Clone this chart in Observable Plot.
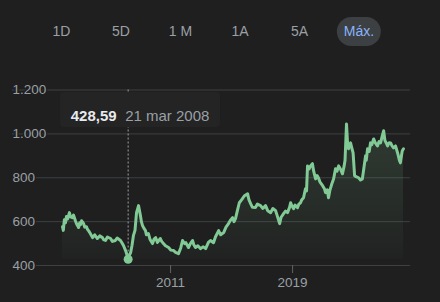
<!DOCTYPE html>
<html><head><meta charset="utf-8">
<script src="https://cdn.jsdelivr.net/npm/d3@7"></script>
<script src="https://cdn.jsdelivr.net/npm/@observablehq/plot@0.6"></script>
<style>
html,body{margin:0;padding:0;background:#1f1f1f;}
#wrap{width:440px;height:302px;position:relative;overflow:hidden;font-family:Arial,"Liberation Sans",sans-serif;}
#tabs{position:relative;height:60px;}
.tab{position:absolute;top:17px;height:29px;line-height:29px;font-size:14px;color:#9aa0a6;transform:translateX(-50%);white-space:nowrap;}
.tab.on{background:#3c4043;color:#8ab4f8;border-radius:15px;padding:0 7px;}
#chart svg{display:block;}
</style></head><body>
<div id="wrap"><div id="tabs"></div><div id="chart"></div></div>
<script>
const ranges = ["1D", "5D", "1 M", "1A", "5A", "Máx."];
const activeRange = "Máx.";

const dates = [
"2003-12-01","2003-12-20","2004-01-15","2004-02-10","2004-03-05","2004-04-01","2004-05-15","2004-06-10","2004-07-25","2004-08-20",
"2004-10-05","2004-11-01","2004-12-20","2005-01-15","2005-02-05","2005-03-01","2005-04-20","2005-05-15","2005-06-25","2005-07-20",
"2005-08-15","2005-09-20","2005-11-20","2006-01-10","2006-03-15","2006-05-10","2006-07-15","2006-08-10","2006-09-25","2006-11-10",
"2007-01-25","2007-03-10","2007-05-20","2007-07-01","2007-09-20","2007-10-20","2007-11-30","2008-01-20","2008-02-20","2008-03-21",
"2008-04-15","2008-05-20","2008-06-20","2008-07-25","2008-09-01","2008-10-08","2008-11-25","2009-01-10","2009-02-01","2009-03-01",
"2009-04-01","2009-05-10","2009-06-01","2009-07-20","2009-08-25","2009-10-25","2009-12-01","2010-01-10","2010-02-20","2010-05-01",
"2010-06-01","2010-07-15","2010-09-01","2010-11-15","2011-01-10","2011-03-15","2011-05-01","2011-07-10","2011-09-01","2011-10-15",
"2011-12-01","2012-01-01","2012-03-05","2012-04-20","2012-06-10","2012-07-10","2012-08-20","2012-10-15","2012-12-20","2013-02-15",
"2013-04-20","2013-06-25","2013-08-15","2013-10-25","2013-12-10","2014-02-25","2014-04-15","2014-06-25","2014-08-20","2014-10-20",
"2014-12-01","2015-01-25","2015-03-01","2015-04-05","2015-05-20","2015-07-05","2015-09-01","2015-11-05","2016-01-20","2016-02-20",
"2016-04-01","2016-05-15","2016-07-25","2016-09-10","2016-11-25","2017-01-20","2017-03-25","2017-05-15","2017-07-25","2017-09-15",
"2017-11-20","2018-01-01","2018-02-25","2018-04-01","2018-05-30","2018-07-15","2018-09-01","2018-10-20","2018-11-15","2018-12-15",
"2019-01-25","2019-03-01","2019-04-30","2019-06-01","2019-07-10","2019-08-10","2019-09-20","2019-11-05","2019-12-01","2019-12-25",
"2020-02-01","2020-03-05","2020-04-20","2020-05-20","2020-07-05","2020-08-10","2020-09-10","2020-10-20","2020-12-20","2021-02-01",
"2021-03-01","2021-04-10","2021-05-10","2021-06-10","2021-07-25","2021-09-10","2021-10-25","2021-12-01","2022-01-08","2022-02-20",
"2022-04-10","2022-05-20","2022-06-10","2022-07-15","2022-08-15","2022-09-01","2022-10-20","2022-11-20","2022-12-20","2023-01-25",
"2023-03-01","2023-04-30","2023-06-15","2023-07-30","2023-09-01","2023-10-15","2023-11-01","2023-12-01","2024-01-10","2024-02-10",
"2024-03-10","2024-04-25","2024-06-01","2024-07-25","2024-09-01","2024-10-08","2024-11-10","2024-12-20","2025-01-20","2025-03-25",
"2025-05-01","2025-06-05","2025-07-10","2025-08-15","2025-10-01","2025-11-20","2026-01-01","2026-01-25","2026-03-10","2026-04-10"
];
const values = [
577,560,609,595,623,612,641,622,618,630,
604,590,573,595,586,604,591,575,577,565,
559,548,527,540,523,535,527,518,514,530,
523,510,514,525,514,505,491,468,450,428.59,
445,459,490,536,560,641,673,627,600,582,
570,559,540,545,520,500,520,527,505,523,
510,500,490,482,470,468,460,454,480,514,
500,504,482,500,514,495,482,490,477,485,
477,505,514,504,530,559,540,550,575,591,
605,618,600,614,650,686,700,718,727,700,
682,665,664,680,673,660,673,650,641,660,
650,625,591,620,636,648,641,665,686,672,
659,675,664,680,686,700,709,750,740,854,
840,854,864,830,795,810,800,780,764,750,
732,745,709,741,770,795,841,830,854,840,
818,854,880,1045,940,932,959,935,913,809,
805,800,790,795,840,900,880,932,920,959,
950,977,960,945,965,959,985,1014,970,945,
960,959,945,936,945,913,880,868,922,932
];

const yTicks = [400, 600, 800, 1000, 1200];
const yTickLabels = ["400", "600", "800", "1.000", "1.200"];
const xTickYears = [2011, 2019];
const xDomain = ["2003-12-01", "2026-04-10"];

const hoverDate = "2008-03-21";
const hoverValue = 428.59;
const hoverValueLabel = "428,59";
const hoverDateLabel = "21 mar 2008";

// tabs
const tabs = document.getElementById("tabs");
ranges.forEach((r, i) => {
  const s = document.createElement("span");
  s.className = "tab" + (r === activeRange ? " on" : "");
  s.textContent = r;
  s.style.left = (61.5 + i * 59.5) + "px";
  tabs.appendChild(s);
});

const data = dates.map((d, i) => ({date: new Date(d), value: values[i]}));
const hover = {date: new Date(hoverDate), value: hoverValue};

const gradientDefs = () => {
  const defs = d3.create("svg:defs");
  const g = defs.append("linearGradient").attr("id", "areaGrad")
    .attr("x1", 0).attr("x2", 0).attr("y1", 0).attr("y2", 1);
  g.append("stop").attr("offset", "0%").attr("stop-color", "#81c995").attr("stop-opacity", 0.17);
  g.append("stop").attr("offset", "100%").attr("stop-color", "#81c995").attr("stop-opacity", 0.02);
  return defs.node();
};

const tooltipBox = (index, scales) => {
  const cx = scales.x(hover.date);
  return d3.create("svg:rect")
    .attr("x", cx - 67.6).attr("y", 32).attr("width", 160).attr("height", 35)
    .attr("rx", 4).attr("fill", "#242424").node();
};

const chart = Plot.plot({
  width: 440,
  height: 242,
  marginTop: 0,
  marginLeft: 12,
  marginRight: 30,
  marginBottom: 37,
  style: {background: "#1f1f1f", fontFamily: "Arial, 'Liberation Sans', sans-serif", fontSize: "13.5px", overflow: "visible"},
  x: {type: "utc", domain: xDomain.map(d => new Date(d)), range: [62, 403], axis: null},
  y: {domain: [400, 1200], range: [205, 29.5], axis: null},
  marks: [
    gradientDefs,
    Plot.ruleY(yTicks, {stroke: "#3c4043", strokeWidth: 1}),
    Plot.areaY(data, {x: "date", y1: 430, y2: "value", fill: "url(#areaGrad)"}),
    Plot.line(data, {x: "date", y: "value", stroke: "#81c995", strokeWidth: 3, strokeLinejoin: "round"}),
    Plot.ruleX([hover], {x: "date", y1: 1200, y2: "value", stroke: "#9aa0a6", strokeWidth: 1, strokeDasharray: "2,2"}),
    tooltipBox,
    Plot.text([hover], {x: "date", frameAnchor: "top", dy: 50, dx: -57.4, textAnchor: "start", text: () => hoverValueLabel, fill: "#e8eaed", fontWeight: "bold", fontSize: 15}),
    Plot.text([hover], {x: "date", frameAnchor: "top", dy: 50, dx: -3, textAnchor: "start", text: () => hoverDateLabel, fill: "#9aa0a6", fontSize: 15}),
    Plot.dot([hover], {x: "date", y: "value", r: 4.5, fill: "#81c995"}),
    Plot.text(yTicks, {y: d => d, text: (d, i) => yTickLabels[i], frameAnchor: "left", textAnchor: "start", fill: "#9aa0a6", stroke: "#1f1f1f", strokeWidth: 3, fontSize: 13.5}),
    Plot.axisX(xTickYears.map(y => new Date(Date.UTC(y, 0, 1))), {tickFormat: d => String(d.getUTCFullYear()), tickSize: 8, tickPadding: 4, stroke: "#5f6368", color: "#9aa0a6", fontSize: 13.5, label: null})
  ]
});
document.getElementById("chart").appendChild(chart);
</script>
</body></html>
